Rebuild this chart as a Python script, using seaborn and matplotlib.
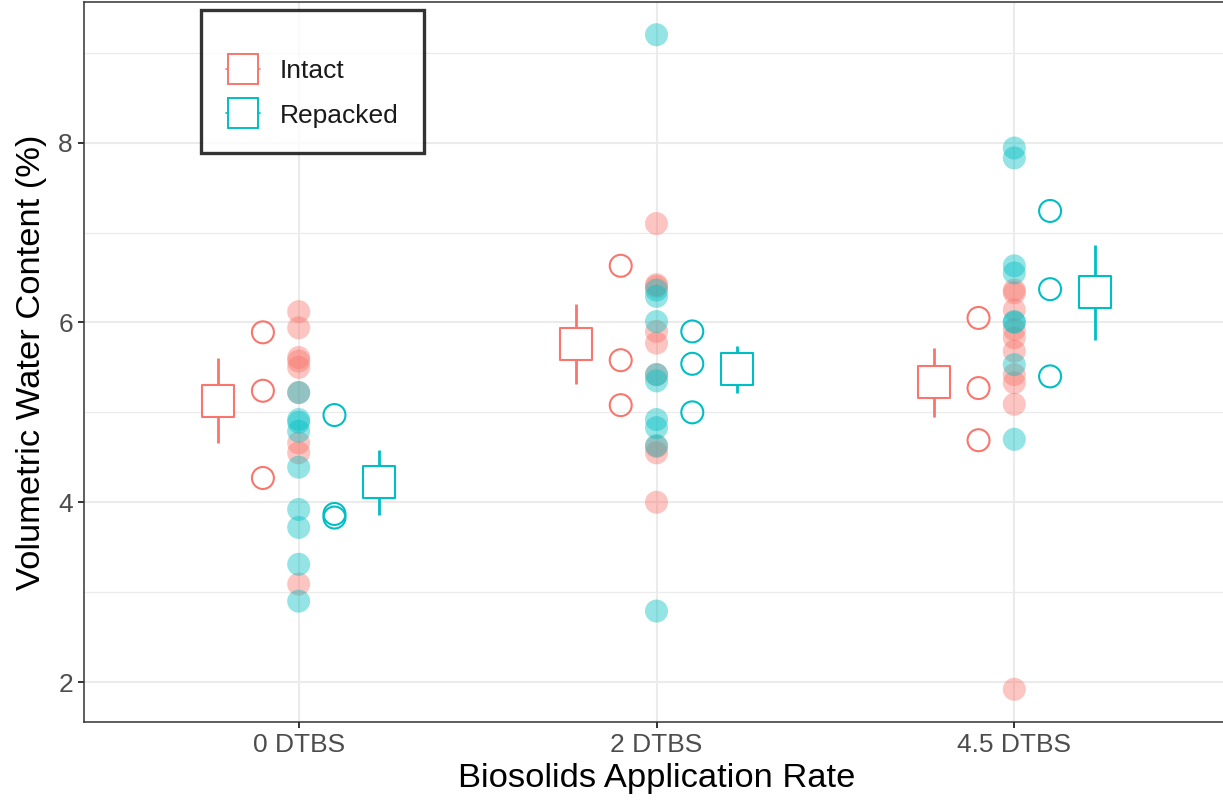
import numpy as np
import pandas as pd
import matplotlib
matplotlib.use("Agg")
import matplotlib.pyplot as plt
import seaborn as sns
from matplotlib.lines import Line2D
from matplotlib.ticker import FixedLocator

# ---------------- data ----------------
rates = ["0 DTBS", "2 DTBS", "4.5 DTBS"]
methods = ["Intact", "Repacked"]

# individual measurements (filled, translucent points)
raw_intact_0 = [6.12, 5.94, 5.61, 5.57, 5.50, 5.22, 4.66, 4.55, 3.09]
raw_intact_2 = [7.10, 6.42, 6.40, 5.90, 5.77, 5.42, 4.62, 4.55, 4.00]
raw_intact_45 = [6.36, 6.33, 6.14, 5.92, 5.83, 5.68, 5.42, 5.33, 5.09, 1.92]
raw_repacked_0 = [5.22, 4.92, 4.89, 4.79, 4.39, 3.92, 3.72, 3.31, 2.90]
raw_repacked_2 = [9.20, 6.36, 6.29, 6.01, 5.42, 5.35, 4.92, 4.83, 4.63, 2.79]
raw_repacked_45 = [7.94, 7.83, 6.63, 6.55, 6.01, 6.00, 5.53, 4.70]

# replicate means (open circles)
rep_intact = [[5.89, 5.24, 4.27], [6.63, 5.58, 5.08], [6.05, 5.27, 4.69]]
rep_repacked = [[4.97, 3.87, 3.83], [5.90, 5.54, 5.00], [7.24, 6.37, 5.40]]

# treatment means and error ranges (open squares + whiskers)
mean_intact = [5.13, 5.76, 5.34]
low_intact = [4.66, 5.31, 4.95]
high_intact = [5.60, 6.21, 5.72]
mean_repacked = [4.22, 5.48, 6.34]
low_repacked = [3.86, 5.22, 5.81]
high_repacked = [4.58, 5.74, 6.86]

# ---------------- styling ----------------
palette = {"Intact": "#F8766D", "Repacked": "#00BFC4"}
rep_offset = {"Intact": -0.1, "Repacked": 0.1}
mean_offset = {"Intact": -0.225, "Repacked": 0.225}
FONT = "Liberation Sans"

raw_lists = {"Intact": [raw_intact_0, raw_intact_2, raw_intact_45],
             "Repacked": [raw_repacked_0, raw_repacked_2, raw_repacked_45]}
rep_lists = {"Intact": rep_intact, "Repacked": rep_repacked}
mean_lists = {"Intact": (mean_intact, low_intact, high_intact),
              "Repacked": (mean_repacked, low_repacked, high_repacked)}

raw_rows, rep_rows, mean_rows = [], [], []
for m in methods:
    for i, r in enumerate(rates):
        for v in raw_lists[m][i]:
            raw_rows.append({"rate": r, "pos": i, "method": m, "vwc": v})
        for v in rep_lists[m][i]:
            rep_rows.append({"rate": r, "pos": i + rep_offset[m], "method": m, "vwc": v})
        mn, lo, hi = mean_lists[m]
        mean_rows.append({"rate": r, "pos": i + mean_offset[m], "method": m,
                          "vwc": mn[i], "lo": lo[i], "hi": hi[i]})
raw_df = pd.DataFrame(raw_rows)
rep_df = pd.DataFrame(rep_rows)
mean_df = pd.DataFrame(mean_rows)

sns.set_theme(style="white")
plt.rcParams["font.family"] = [FONT, "DejaVu Sans"]

W, H = 1223, 806
fig = plt.figure(figsize=(W / 100, H / 100), dpi=100)
ax = fig.add_axes([84 / W, 1 - 722 / H, (1229 - 84) / W, 720 / H])

# raw points
sns.scatterplot(data=raw_df, x="pos", y="vwc", hue="method", palette=palette,
                s=275, alpha=0.42, linewidth=0, legend=False, ax=ax, zorder=3)

# replicate means: open circles
for m in methods:
    sub = rep_df[rep_df["method"] == m]
    sns.scatterplot(data=sub, x="pos", y="vwc", color=palette[m],
                    facecolor="none", edgecolor=palette[m], linewidth=1.5,
                    s=250, legend=False, ax=ax, zorder=4)

# treatment means: whiskers + open squares
for m in methods:
    sub = mean_df[mean_df["method"] == m]
    ax.vlines(sub["pos"], sub["lo"], sub["hi"], color=palette[m], lw=2.0, zorder=5)
    sns.scatterplot(data=sub, x="pos", y="vwc", color=palette[m], marker="s",
                    facecolor="white", edgecolor=palette[m], linewidth=1.5,
                    s=510, legend=False, ax=ax, zorder=6)

# axes
ax.set_xlim(-0.6, 2.6)
ax.set_ylim(1.556, 9.564)
ax.set_xticks(range(len(rates)))
ax.set_xticklabels(rates)
ax.set_yticks([2, 4, 6, 8])
ax.yaxis.set_minor_locator(FixedLocator([3, 5, 7, 9]))
ax.set_axisbelow(True)
ax.grid(which="major", color="#EBEBEB", lw=1.5)
ax.grid(which="minor", axis="y", color="#EBEBEB", lw=0.9)
ax.tick_params(axis="both", which="major", length=4, width=1.4, color="#333333",
               labelcolor="#4D4D4D", labelsize=19, pad=4, direction="out",
               bottom=True, left=True)
ax.tick_params(axis="both", which="minor", length=0)
for s in ax.spines.values():
    s.set_color("#333333")
    s.set_linewidth(1.1)

ax.set_xlabel("Biosolids Application Rate", fontsize=24.8, color="black", labelpad=4)
ax.set_ylabel("Volumetric Water Content (%)", fontsize=24.8, color="black", labelpad=8)

handles = [Line2D([0], [0], color=palette[m], lw=1.2, marker="s", markersize=22,
                  markerfacecolor="white", markeredgecolor=palette[m], markeredgewidth=1.4)
           for m in methods]
leg = ax.legend(handles, methods, loc="upper left", bbox_to_anchor=(0.102, 0.989),
                borderaxespad=0, fontsize=19, title=" ", title_fontsize=2,
                frameon=True, fancybox=False, handlelength=1.3, handletextpad=0.75,
                labelspacing=0.77, borderpad=0.95)
leg.get_frame().set_edgecolor("black")
leg.get_frame().set_linewidth(2.4)
for t in leg.get_texts():
    t.set_color("#1a1a1a")

fig.savefig("out.png", dpi=100)
